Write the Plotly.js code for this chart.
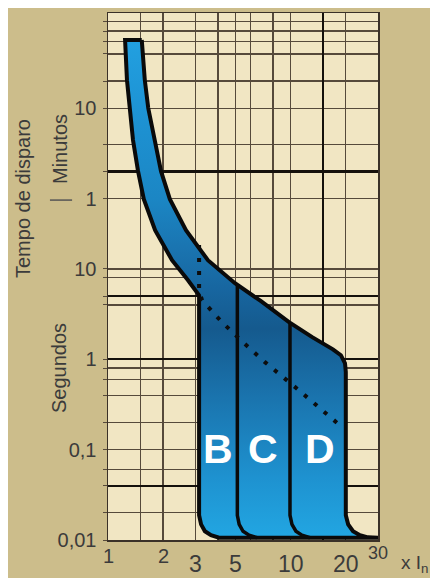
<!DOCTYPE html>
<html><head><meta charset="utf-8">
<script src="https://cdn.plot.ly/plotly-3.0.1.min.js"></script>
<style>
html,body{margin:0;padding:0;background:#ffffff;width:430px;height:578px;overflow:hidden}
#chart{position:absolute;left:8px;top:8px;width:422px;height:570px}
</style></head><body><div id="chart"></div>
<script>
// Trip curves of miniature circuit breakers: current (x In) vs trip time (seconds)
const minCurveX = [1.24, 1.27, 1.32, 1.37, 1.46, 1.57, 1.81, 2.24, 2.74];
const minCurveT = [3420, 1230, 604, 267, 121, 59.3, 26.9, 12.5, 7.5];
const maxCurveX = [1.53, 1.59, 1.66, 1.81, 1.95, 2.18, 2.67, 3.52, 4.95, 6.87, 9.78, 13.1, 17.0, 18.8, 19.8, 20];
const maxCurveT = [3420, 1230, 604, 267, 121, 59.3, 26.9, 12.5, 6.96, 4.40, 2.58, 1.76, 1.29, 1.11, 0.905, 0.72];
const bLineX = [3.15, 3.15, 3.23, 3.39, 3.66, 4.05];
const bLineT = [5.1, 0.0188, 0.0149, 0.0125, 0.0113, 0.0106];
const cLineX = [5.1, 5.1, 5.22, 5.48, 5.91, 6.53];
const cLineT = [6.8, 0.0188, 0.0149, 0.0125, 0.0113, 0.0106];
const dLineX = [9.9, 9.9, 10.15, 10.67, 11.51, 12.73];
const dLineT = [2.55, 0.0188, 0.0149, 0.0125, 0.0113, 0.0106];
const rLineX = [20, 20.6, 21.9, 23.9, 26.4, 30];
const rLineT = [0.0188, 0.0149, 0.0125, 0.0113, 0.0107, 0.0106];
const dotX = [3.15, 3.15, 3.27, 4.2, 5.48, 7.22, 10.9, 19.1];
const dotT = [18.4, 5.8, 4.5, 2.58, 1.546, 0.93, 0.467, 0.177];
const curveLabels = ['B', 'C', 'D'];
const curveLabelX = [4.02, 7.05, 14.45];
const curveLabelT = [0.101, 0.101, 0.101];

// Axes: ticks and grid
const xTickVals = [1, 2, 3, 5, 10, 20, 30];
const xTickText = ['1', '2', '3', '5', '10', '20', '30'];
const xGridVals = [1.5, 2, 3, 4, 5, 6, 8, 10, 15, 20];
const xThickVals = [15];
const yTickVals = [0.01, 0.1, 1, 10, 60, 600];
const yTickText = ['0,01', '0,1', '1', '10', '1', '10'];
const yGridVals = [0.02, 0.04, 0.06, 0.1, 0.2, 0.4, 0.6, 0.8, 1, 4, 5, 8, 10, 60, 120, 240, 600, 1200, 2400, 3300, 4300, 5500];
const yThickVals = [0.04, 1, 5, 120];

const FONT = 'Liberation Sans, Arial, Helvetica, sans-serif';
const TXT = '#3b3b3b';
const GRID = '#564a3b';
const THICK = '#15110c';
const XR = [0, Math.log10(30)];
const YR = [-2, 3.833];

// outline of the whole trip region
const outlineX = [].concat(maxCurveX, rLineX, bLineX.slice().reverse(), minCurveX.slice().reverse(), [maxCurveX[0]]);
const outlineT = [].concat(maxCurveT, rLineT, bLineT.slice().reverse(), minCurveT.slice().reverse(), [maxCurveT[0]]);

const traces = [
  {
    type: 'scatter', mode: 'lines', x: outlineX, y: outlineT,
    fill: 'toself', fillcolor: '#1a7ab8',
    fillgradient: {
      type: 'vertical',
      colorscale: [[0, '#22a6e2'], [0.12, '#1e92d0'], [0.28, '#1a74ae'], [0.42, '#155a8e'],
                   [0.5, '#1766a0'], [0.58, '#1a74b0'], [0.68, '#1b86c4'], [0.88, '#1e95d6'], [1, '#22a0e0']]
    },
    line: {color: '#0a0a0a', width: 4}, hoverinfo: 'skip'
  },
  {type: 'scatter', mode: 'lines', x: cLineX, y: cLineT, line: {color: '#0a0a0a', width: 3.5}, hoverinfo: 'skip'},
  {type: 'scatter', mode: 'lines', x: dLineX, y: dLineT, line: {color: '#0a0a0a', width: 3.5}, hoverinfo: 'skip'},
  {type: 'scatter', mode: 'lines', x: dotX, y: dotT, line: {color: '#0d0d0d', width: 4, dash: '4px,9px'}, hoverinfo: 'skip'},
  // carriers for the overlaid grid axes (no marks)
  {type: 'scatter', mode: 'lines', x: [], y: [], xaxis: 'x2', yaxis: 'y', hoverinfo: 'skip'},
  {type: 'scatter', mode: 'lines', x: [], y: [], xaxis: 'x', yaxis: 'y2', hoverinfo: 'skip'},
  {type: 'scatter', mode: 'lines', x: [], y: [], xaxis: 'x', yaxis: 'y3', hoverinfo: 'skip'}
];

const annotations = [];
xTickVals.forEach((v, i) => {
  let size = 20, shift = -16;
  if (v >= 3 && v <= 20) { size = 23; shift = -24; }
  if (v === 30) { size = 18; shift = -13; }
  annotations.push({x: Math.log10(v), xref: 'x', y: 0, yref: 'paper', yshift: shift,
    xanchor: 'center', yanchor: 'middle', showarrow: false, text: xTickText[i],
    font: {family: FONT, size: size, color: TXT}});
});
annotations.push({x: 1, xref: 'paper', xshift: 21, y: 0, yref: 'paper', yshift: -24,
  xanchor: 'left', yanchor: 'middle', showarrow: false, text: 'x I<sub>n</sub>',
  font: {family: FONT, size: 19, color: TXT}});
annotations.push({x: 0, xref: 'paper', xshift: -85, y: 0, yref: 'paper', yshift: 341,
  xanchor: 'center', yanchor: 'middle',
  textangle: -90, showarrow: false, text: 'Tempo de disparo', font: {family: FONT, size: 20, color: TXT}});
annotations.push({x: 0, xref: 'paper', xshift: -48, y: 0, yref: 'paper', yshift: 391,
  xanchor: 'center', yanchor: 'middle',
  textangle: -90, showarrow: false, text: 'Minutos', font: {family: FONT, size: 20, color: TXT}});
annotations.push({x: 0, xref: 'paper', xshift: -49, y: 0, yref: 'paper', yshift: 172,
  xanchor: 'center', yanchor: 'middle',
  textangle: -90, showarrow: false, text: 'Segundos', font: {family: FONT, size: 20, color: TXT}});
curveLabels.forEach((t, i) => {
  annotations.push({x: Math.log10(curveLabelX[i]), y: Math.log10(curveLabelT[i]), xref: 'x', yref: 'y',
    showarrow: false, text: t, xanchor: 'center', yanchor: 'middle',
    font: {family: FONT, size: 41, color: '#ffffff', weight: 'bold'}});
});

const noAx = {showline: false, zeroline: false, fixedrange: true, showticklabels: false};
const layout = {
  width: 422, height: 570,
  margin: {l: 100, r: 52, t: 5, b: 38, pad: 0},
  paper_bgcolor: '#CCBD8B',
  plot_bgcolor: '#F1E6C3',
  showlegend: false,
  xaxis: {type: 'log', range: XR, tickvals: xGridVals, showticklabels: false, ticks: '',
    showgrid: true, gridcolor: GRID, gridwidth: 1.3, showline: true, mirror: true,
    linecolor: '#3a3128', linewidth: 1.5, zeroline: false, fixedrange: true},
  yaxis: {type: 'log', range: YR, tickvals: yTickVals, ticktext: yTickText, ticks: 'outside', ticklen: 4,
    tickcolor: GRID, tickwidth: 1, ticklabelstandoff: 2,
    tickfont: {family: FONT, size: 20, color: TXT},
    showgrid: true, gridcolor: GRID, gridwidth: 1.3, showline: true, mirror: true,
    linecolor: '#3a3128', linewidth: 1.5, zeroline: false, fixedrange: true},
  xaxis2: Object.assign({type: 'log', overlaying: 'x', anchor: 'y', range: XR, tickvals: xThickVals, ticks: '',
    showgrid: true, gridcolor: THICK, gridwidth: 2.2}, noAx),
  yaxis2: Object.assign({type: 'log', overlaying: 'y', anchor: 'x', range: YR, tickvals: yGridVals,
    ticks: 'outside', ticklen: 4, tickcolor: GRID, tickwidth: 1,
    showgrid: true, gridcolor: GRID, gridwidth: 1.3}, noAx),
  yaxis3: Object.assign({type: 'log', overlaying: 'y', anchor: 'x', range: YR, tickvals: yThickVals, ticks: '',
    showgrid: true, gridcolor: THICK, gridwidth: 2.2}, noAx),
  shapes: [{type: 'line', xref: 'paper', yref: 'paper', x0: -0.215, x1: -0.133, y0: 0.645, y1: 0.645,
    line: {color: '#555', width: 1.5}}],
  annotations: annotations
};

Plotly.newPlot('chart', traces, layout, {staticPlot: true, displayModeBar: false});
</script></body></html>
